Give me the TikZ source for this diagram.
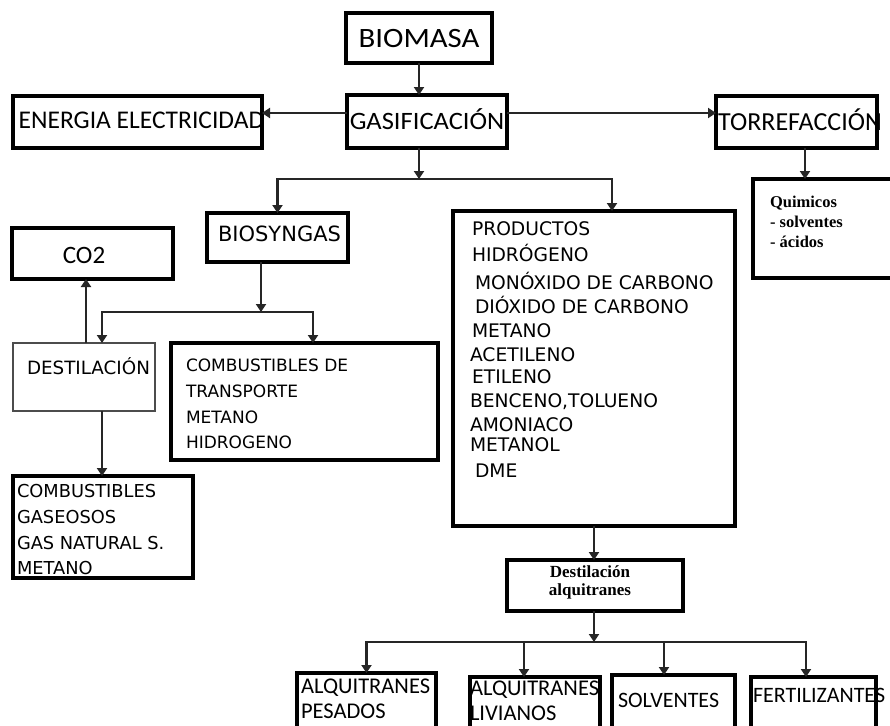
\documentclass[tikz,border=0pt]{standalone}
\usepackage{fontspec}
\usepackage{graphicx}
\newfontfamily\calfont{Carlito}
\newfontfamily\dvfont{DejaVu Sans}
\newfontfamily\tmfont{Liberation Serif}
\usetikzlibrary{arrows.meta}
\newcommand\bx[6]{\node[box,#6,minimum width={(#4-#2)*1pt},minimum height={(#5-#3)*1pt}] (#1) at ({(#2+#4)/2},{(#3+#5)/2}) {};}
\tikzset{
  box/.style={draw=black, line width=3.6pt, inner sep=0pt, outer sep=0pt, fill=white},
  thinbox/.style={draw=black!70, line width=1.8pt},
  conn/.style={draw=black!85, line width=2.4pt},
  arr/.style={conn, -{Triangle[width=10pt,length=8pt]}},
  txt/.style={inner sep=0pt, outer sep=0pt, anchor=base west, text=black},
  cal/.style={txt, font=\calfont\fontsize{#1}{#1}\selectfont},
  dv/.style={txt, font=\dvfont\fontsize{#1}{#1}\selectfont},
  tm/.style={txt, font=\tmfont\bfseries\fontsize{#1}{#1}\selectfont},
}
\begin{document}
\begin{tikzpicture}[x=1pt,y=-1pt]
\useasboundingbox[fill=white] (0,0) rectangle (890,725);
% boxes
\bx{biomasa}{346}{13}{492}{63}{}
\bx{gasif}{347}{95}{507}{148}{}
\bx{energia}{13}{96}{262}{148}{}
\bx{torref}{716}{96}{877}{148}{}
\bx{quim}{753}{179}{897}{278}{}
\bx{biosyn}{207}{213}{348}{262}{}
\bx{prod}{453}{211}{735}{526}{}
\bx{co2}{12}{228}{173}{279}{}
\bx{destil}{13}{343}{155}{411}{thinbox}
\bx{combtr}{171}{343}{438}{460}{}
\bx{combgas}{13}{476}{193}{578}{}
\bx{destalq}{507}{560}{683}{611}{}
\bx{alqpes}{297}{673}{436}{731}{}
\bx{alqliv}{470}{677}{600}{731}{}
\bx{solv}{612}{675}{735}{731}{}
\bx{fert}{751}{677}{876}{731}{}
% connectors
\draw[arr] (biomasa.south) -- (biomasa.south |- gasif.north);
\draw[arr] (gasif.west |- 0,113) -- (energia.east |- 0,113);
\draw[arr] (gasif.east |- 0,113) -- (torref.west |- 0,113);
\coordinate (j1) at (419,179);
\draw[arr] (j1 |- gasif.south) -- (j1);
\draw[arr] (j1) -| (biosyn.north);
\draw[arr] (j1) -| ([xshift=18pt]prod.north);
\draw[arr] ([xshift=8.5pt]torref.south) -- ([xshift=8.5pt]torref.south |- quim.north);
\coordinate (j2) at (261,312);
\draw[arr] (j2 |- biosyn.south) -- (j2);
\draw[arr] (j2) -| ([xshift=18pt]destil.north);
\draw[arr] (j2) -| ([xshift=8.5pt]combtr.north);
\draw[arr] ([xshift=2pt]destil.north) -- ([xshift=2pt]destil.north |- co2.south);
\draw[arr] ([xshift=18pt]destil.south) -- ([xshift=18pt]destil.south |- combgas.north);
\draw[arr] (prod.south) -- (prod.south |- destalq.north);
\coordinate (j3) at (594,642);
\draw[arr] (j3 |- destalq.south) -- (j3);
\draw[arr] (j3) -| (alqpes.north);
\draw[arr] (j3) -| ([xshift=-11pt]alqliv.north);
\draw[arr] (j3) -| ([xshift=-9.5pt]solv.north);
\draw[arr] (j3) -| ([xshift=-7.5pt]fert.north);
% texts
\node[cal=28, anchor=center] (tbiomasa) at (419,39) {\scalebox{1.1}[1]{BIOMASA}};
\node[cal=25, anchor=center] (tgasif) at (427,119) {\scalebox{1.06}[1]{GASIFICACIÓN}};
\node[cal=25.5, anchor=center] (tenergia) at (141.5,120) {ENERGIA ELECTRICIDAD};
\node[cal=26, anchor=center] (ttorref) at (800,120) {TORREFACCIÓN};
\node[cal=25, anchor=base] (tco2) at (84,263) {CO2};
\node[dv=21] (tbiosyn) at (218,241) {BIOSYNGAS};
\node[dv=18.3] (tdestil) at (27,374) {DESTILACIÓN};
\node[dv=17] (tct1) at (186,371) {COMBUSTIBLES DE};
\node[dv=17] (tct2) at (186,397) {TRANSPORTE};
\node[dv=17] (tct3) at (186,423) {METANO};
\node[dv=17] (tct4) at (186,448) {HIDROGENO};
\node[dv=17.8] (tcg1) at (17,497) {COMBUSTIBLES};
\node[dv=17.8] (tcg2) at (17,523) {GASEOSOS};
\node[dv=17.8] (tcg3) at (17,549) {GAS NATURAL S.};
\node[dv=17.8] (tcg4) at (17,574) {METANO};
\node[dv=18.7] (tp1) at (472,235) {PRODUCTOS};
\node[dv=18.7] (tp2) at (472,261) {HIDRÓGENO};
\node[dv=18.7] (tp3) at (475,289) {MONÓXIDO DE CARBONO};
\node[dv=18.7] (tp4) at (475,313) {DIÓXIDO DE CARBONO};
\node[dv=18.7] (tp5) at (472,337) {METANO};
\node[dv=18.7] (tp6) at (470,361) {ACETILENO};
\node[dv=18.7] (tp7) at (472,383) {ETILENO};
\node[dv=18.7] (tp8) at (470,407) {BENCENO,TOLUENO};
\node[dv=18.7] (tp9) at (470,431) {AMONIACO};
\node[dv=18.7] (tp10) at (470,451) {METANOL};
\node[dv=18.7] (tp11) at (475,477) {DME};
\node[tm=16.5] (tq1) at (770,207) {Quimicos};
\node[tm=16.5] (tq2) at (770,227) {- solventes};
\node[tm=16.5] (tq3) at (770,247) {- ácidos};
\node[tm=17, anchor=base] (tda1) at (590,577) {Destilación};
\node[tm=17, anchor=base] (tda2) at (590,595) {alquitranes};
\node[cal=22.5] (tap1) at (301,693) {ALQUITRANES};
\node[cal=22.5] (tap2) at (301,718) {PESADOS};
\node[cal=22.5] (tal1) at (470,695) {ALQUITRANES};
\node[cal=22.5] (tal2) at (470,720) {LIVIANOS};
\node[cal=22] (tsolv) at (618,707) {SOLVENTES};
\node[cal=22] (tfert) at (753,702) {FERTILIZANTES};
\end{tikzpicture}
\end{document}
